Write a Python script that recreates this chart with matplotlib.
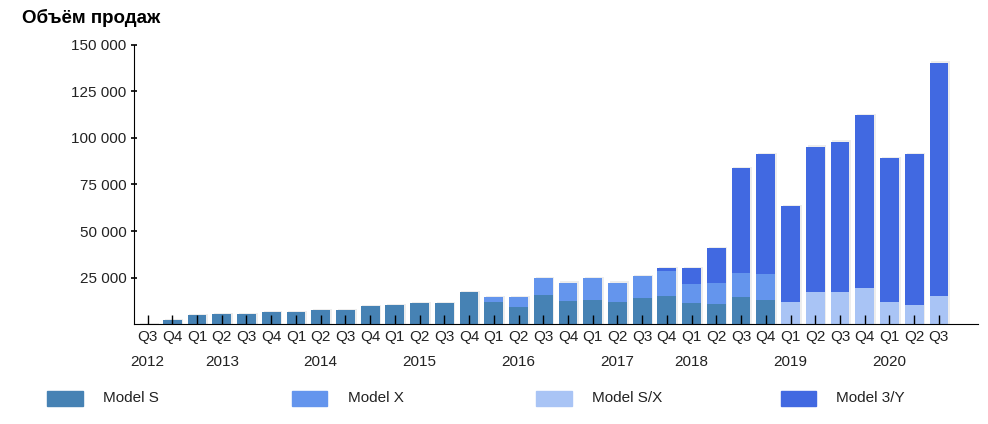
import matplotlib
matplotlib.use("Agg")
import matplotlib.pyplot as plt
from matplotlib.patches import Rectangle
import numpy as np

plt.rcParams['font.family'] = ['Liberation Sans', 'DejaVu Sans']

quarters = ['Q3', 'Q4',
            'Q1', 'Q2', 'Q3', 'Q4',
            'Q1', 'Q2', 'Q3', 'Q4',
            'Q1', 'Q2', 'Q3', 'Q4',
            'Q1', 'Q2', 'Q3', 'Q4',
            'Q1', 'Q2', 'Q3', 'Q4',
            'Q1', 'Q2', 'Q3', 'Q4',
            'Q1', 'Q2', 'Q3', 'Q4',
            'Q1', 'Q2', 'Q3']
years = ['2012', '2013', '2014', '2015', '2016', '2017', '2018', '2019', '2020']
year_pos = [0, 3, 7, 11, 15, 19, 22, 26, 30]

model_s = [250, 2400, 4800, 5300, 5500, 6600, 6500, 7700, 7700, 9800, 10300,
           11500, 11500, 17400, 11700, 9500, 15800, 12500, 13100, 12000, 14300,
           15200, 11500, 10750, 14500, 13100, 0, 0, 0, 0, 0, 0, 0]
model_x = [0, 0, 0, 0, 0, 0, 0, 0, 0, 0, 0,
           0, 0, 0, 3000, 5200, 9100, 9900, 11800, 10400, 11700,
           13500, 10200, 11450, 13100, 13900, 0, 0, 0, 0, 0, 0, 0]
model_sx = [0] * 26 + [12000, 17400, 17400, 19400, 12000, 10200, 15200]
model_3y = [0] * 21 + [1400, 8400, 18700, 56300, 64400,
                       51600, 77900, 80600, 93000, 76900, 81200, 125100]

names = ['Model S', 'Model X', 'Model S/X', 'Model 3/Y']
colors = ['#4682B4', '#6495ED', '#A9C4F5', '#4169E1']
series = [model_s, model_x, model_sx, model_3y]

fig = plt.figure(figsize=(9.88, 4.24), dpi=100)
ax = fig.add_axes([0.1356, 0.2351, 0.854, 0.6599])

x = np.arange(len(quarters))
total = np.sum(np.array(series), axis=0)
# faint drop shadow behind each column
ax.bar(x + 0.07, total + 600, width=0.76, color='#000000', alpha=0.07, zorder=1)

bottom = np.zeros(len(quarters))
for vals, c in zip(series, colors):
    ax.bar(x, vals, width=0.76, bottom=bottom, color=c, zorder=2)
    bottom += np.array(vals)

ax.set_xlim(-0.55, len(quarters) - 1 + 1.57)
ax.set_ylim(0, 150000)

for s in ['top', 'right']:
    ax.spines[s].set_visible(False)
ax.spines['left'].set_color('black')
ax.spines['bottom'].set_color('black')

yt = [25000, 50000, 75000, 100000, 125000, 150000]
ax.set_yticks(yt)
ax.set_yticklabels(['{:,}'.format(v).replace(',', ' ') for v in yt])
ax.tick_params(axis='y', direction='inout', length=4.5, width=1.2, pad=3,
               labelsize=11, labelcolor='#222222')

ax.set_xticks(x)
ax.set_xticklabels(quarters)
ax.tick_params(axis='x', direction='in', length=6.5, width=1, pad=4,
               labelsize=11, labelcolor='#222222')
ax.set_axisbelow(False)

for yr, p in zip(years, year_pos):
    ax.text(p, -0.135, yr, transform=ax.get_xaxis_transform(),
            ha='center', va='center', fontsize=11, color='#222222')

fig.text(22 / 988, 1 - 18 / 424, 'Объём продаж', fontsize=13.5,
         fontweight='bold', ha='left', va='center')

# legend
for i, (n, c) in enumerate(zip(names, colors)):
    x0 = 47 + i * 244.5
    fig.add_artist(Rectangle((x0 / 988, 1 - 406 / 424), 35.5 / 988, 15.5 / 424,
                             transform=fig.transFigure, color=c))
    fig.text((x0 + 56) / 988, 1 - 398.5 / 424, n, fontsize=11,
             color='#222222', ha='left', va='center')

fig.savefig('out.png', dpi=100)
